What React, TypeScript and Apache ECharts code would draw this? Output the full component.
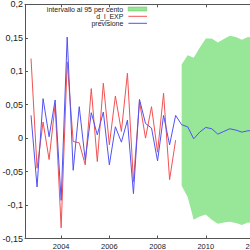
import React, { useEffect, useRef } from "react";
import * as echarts from "echarts";

// Quarterly data, first observation 2002:4
const startYear = 2002;
const startQuarter = 4;

// d_l_EXP (observed), 2002:4 – 2008:4
const observed = [
  0.119, -0.045, 0.024, -0.032, 0.05, -0.134, 0.114, -0.005, -0.007, -0.04,
  0.074, -0.035, 0.082, -0.01, 0.063, 0.01, 0.097, -0.065, 0.055, 0.0,
  0.047, -0.021, 0.067, -0.062, -0.003,
];

// previsione (fitted + forecast), 2002:4 – 2012:1
const forecast = [
  0.034, -0.073, 0.059, 0.002, 0.057, -0.093, 0.151, -0.048, 0.047, -0.033,
  0.038, 0.005, 0.039, -0.04, 0.017, -0.006, 0.027, -0.083, 0.058, 0.022,
  0.015, -0.034, 0.034, -0.01, 0.034, 0.02, 0.017, -0.001, 0.009, 0.016,
  0.014, 0.006, 0.01, 0.014, 0.012, 0.009, 0.011, 0.011,
];

// 95% interval, starting at 2009:1 (index 25)
const bandStartIndex = 25;
const bandUpper = [
  0.11, 0.124, 0.12, 0.135, 0.149, 0.149, 0.143, 0.148, 0.153, 0.151, 0.147,
  0.151, 0.15,
];
const bandLower = [
  -0.071, -0.088, -0.122, -0.117, -0.114, -0.122, -0.128, -0.126, -0.125,
  -0.127, -0.13, -0.126, -0.127,
];

const xTicks = [2004, 2006, 2008, 2010, 2012];
const yTicks = { min: -0.15, max: 0.2, interval: 0.05 };

const FONT = "'Liberation Sans', Arial, sans-serif";
const BAND = "#98e698";
const RED = "#f25252";
const BLUE = "#5252f2";

function periodValue(i: number): number {
  const q0 = startQuarter - 1 + i;
  return startYear + Math.floor(q0 / 4) + (q0 % 4) / 4;
}

export default function App() {
  const ref = useRef<HTMLDivElement>(null);

  useEffect(() => {
    if (!ref.current) return;
    const chart = echarts.init(ref.current, undefined, { renderer: "svg" });

    const axisColor = "#555";
    const textColor = "#222";

    const bandData = bandUpper.map((v, k) => [
      periodValue(bandStartIndex + k),
      v,
      bandLower[k],
    ]);

    const option: any = {
      animation: false,
      grid: {
        left: 25,
        top: 4.3,
        bottom: 11.5,
        right: -16,
        containLabel: false,
        outerBoundsMode: "none",
      },
      xAxis: [
        {
          type: "value",
          min: 2002.5,
          max: 2012.5,
          position: "bottom",
          splitLine: { show: false },
          axisLine: {
            show: true,
            onZero: false,
            lineStyle: { color: axisColor, width: 1 },
          },
          axisTick: {
            show: true,
            inside: true,
            length: 3,
            customValues: xTicks,
            lineStyle: { color: axisColor },
          },
          axisLabel: {
            customValues: xTicks,
            fontSize: 7.5,
            fontFamily: FONT,
            color: textColor,
            margin: 4,
            formatter: (v: number) => String(Math.round(v)),
          },
        },
        {
          type: "value",
          min: 2002.5,
          max: 2012.5,
          position: "top",
          splitLine: { show: false },
          axisLine: {
            show: true,
            onZero: false,
            lineStyle: { color: axisColor, width: 1 },
          },
          axisTick: {
            show: true,
            inside: true,
            length: 3,
            customValues: xTicks,
            lineStyle: { color: axisColor },
          },
          axisLabel: { show: false },
        },
      ],
      yAxis: {
        type: "value",
        min: yTicks.min,
        max: yTicks.max,
        interval: yTicks.interval,
        splitLine: { show: false },
        axisLine: {
          show: true,
          onZero: false,
          lineStyle: { color: axisColor, width: 1 },
        },
        axisTick: {
          show: true,
          inside: true,
          length: 3,
          lineStyle: { color: axisColor },
        },
        axisLabel: {
          fontSize: 9,
          fontFamily: FONT,
          color: textColor,
          margin: 2,
          formatter: (v: number) =>
            String(Math.round(v * 100) / 100).replace(".", ","),
        },
      },
      legend: [
        {
          data: [
            {
              name: "intervallo al 95 per cento",
              icon: "rect",
              itemStyle: { color: BAND, borderColor: "#5cbf5c", borderWidth: 0.5 },
            },
          ],
          orient: "vertical",
          align: "right",
          right: 103,
          top: 5.5,
          padding: 0,
          itemWidth: 18.6,
          itemHeight: 4,
          itemGap: 0,
          selectedMode: false,
          textStyle: {
            fontSize: 7,
            lineHeight: 7,
            fontFamily: FONT,
            color: textColor,
          },
        },
        {
          data: ["d_l_EXP", "previsione"],
          icon: "rect",
          orient: "vertical",
          align: "right",
          right: 103,
          top: 12.8,
          padding: 0,
          itemWidth: 18.6,
          itemHeight: 1,
          itemGap: 0,
          selectedMode: false,
          textStyle: {
            fontSize: 7,
            lineHeight: 7,
            fontFamily: FONT,
            color: textColor,
          },
        },
      ],
      series: [
        {
          name: "intervallo al 95 per cento",
          type: "custom",
          coordinateSystem: "cartesian2d",
          silent: true,
          itemStyle: { color: BAND },
          encode: { x: 0, y: [1, 2] },
          data: bandData,
          renderItem: (params: any, api: any) => {
            if (params.dataIndex !== 0) return null;
            const pts: number[][] = [];
            for (let k = 0; k < bandData.length; k++) {
              pts.push(api.coord([bandData[k][0], bandData[k][1]]));
            }
            for (let k = bandData.length - 1; k >= 0; k--) {
              pts.push(api.coord([bandData[k][0], bandData[k][2]]));
            }
            return {
              type: "polygon",
              shape: { points: pts },
              style: { fill: BAND, stroke: "none" },
            };
          },
        },
        {
          name: "d_l_EXP",
          type: "line",
          symbol: "none",
          color: RED,
          lineStyle: { color: RED, width: 1 },
          data: observed.map((v, i) => [periodValue(i), v]),
        },
        {
          name: "previsione",
          type: "line",
          symbol: "none",
          color: BLUE,
          lineStyle: { color: BLUE, width: 1 },
          data: forecast.map((v, i) => [periodValue(i), v]),
        },
      ],
    };

    chart.setOption(option);
    return () => chart.dispose();
  }, []);

  return (
    <div
      ref={ref}
      style={{ position: "absolute", left: 0, top: 0, width: 250, height: 250 }}
    />
  );
}
